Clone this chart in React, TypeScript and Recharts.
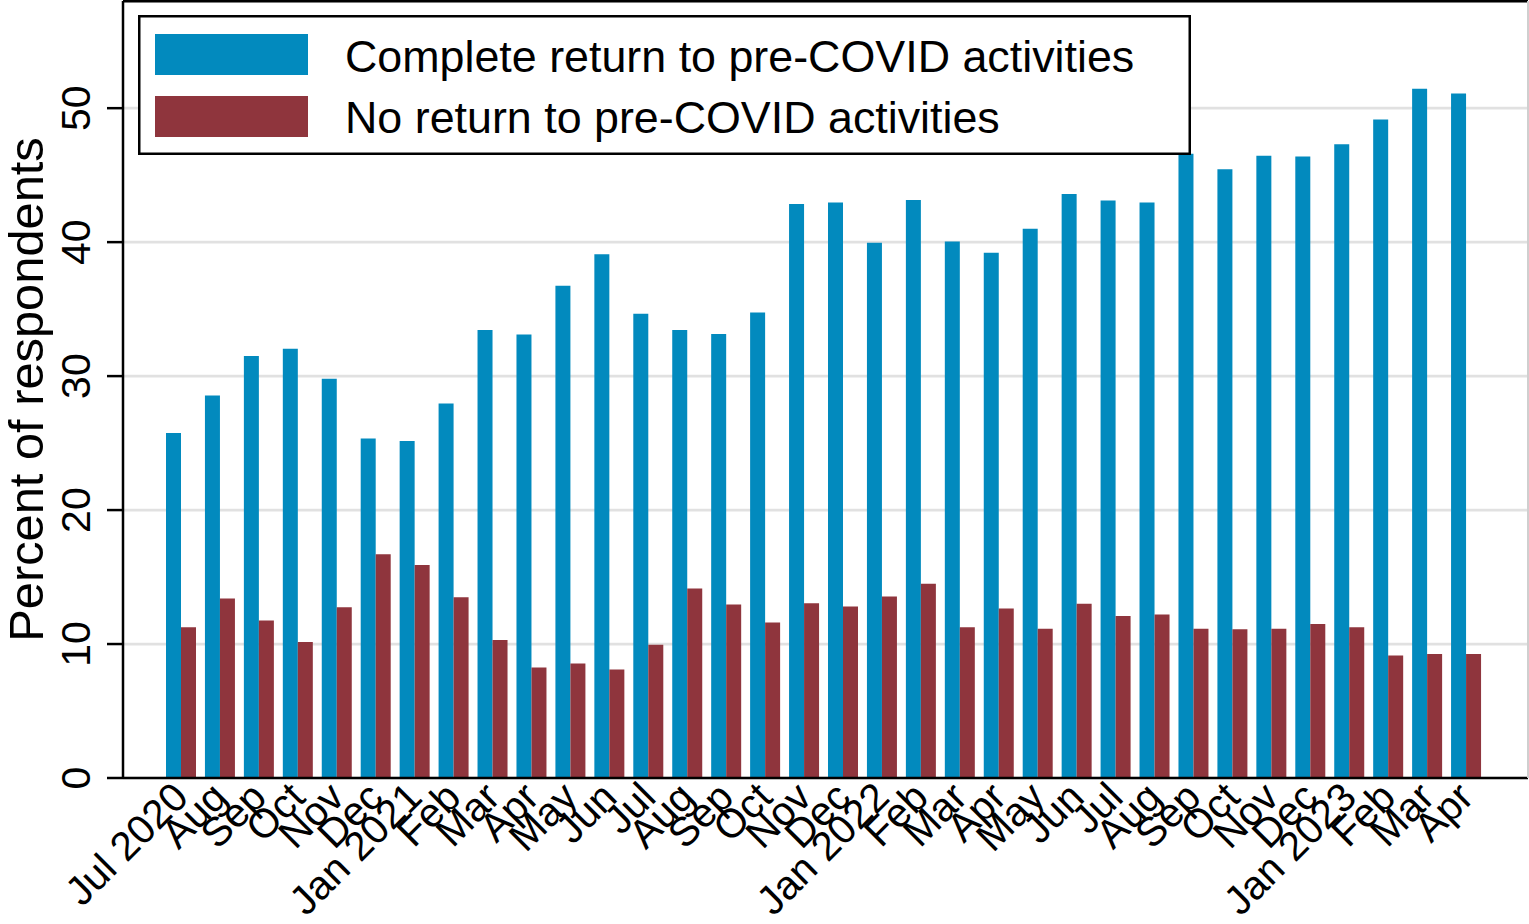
import React from 'react';
import { BarChart, Bar, XAxis, YAxis, CartesianGrid, Legend, ReferenceLine, Label } from 'recharts';

const months: string[] = ['Jul 2020', 'Aug', 'Sep', 'Oct', 'Nov', 'Dec', 'Jan 2021', 'Feb', 'Mar', 'Apr', 'May', 'Jun', 'Jul', 'Aug', 'Sep', 'Oct', 'Nov', 'Dec', 'Jan 2022', 'Feb', 'Mar', 'Apr', 'May', 'Jun', 'Jul', 'Aug', 'Sep', 'Oct', 'Nov', 'Dec', 'Jan 2023', 'Feb', 'Mar', 'Apr'];

const completeReturn: number[] = [25.75, 28.55, 31.5, 32.05, 29.8, 25.35, 25.15, 27.95, 33.45, 33.1, 36.75, 39.1, 34.65, 33.45, 33.15, 34.75, 42.85, 42.95, 39.95, 43.15, 40.05, 39.2, 41.0, 43.6, 43.1, 42.95, 46.6, 45.45, 46.45, 46.4, 47.3, 49.15, 51.45, 51.1];

const noReturn: number[] = [11.25, 13.4, 11.75, 10.15, 12.75, 16.7, 15.9, 13.5, 10.3, 8.25, 8.55, 8.1, 9.95, 14.15, 12.95, 11.6, 13.05, 12.8, 13.55, 14.5, 11.25, 12.65, 11.15, 13.0, 12.1, 12.2, 11.15, 11.1, 11.15, 11.5, 11.25, 9.15, 9.25, 9.25];

const yTicks: number[] = [0, 10, 20, 30, 40, 50];

const BLUE = '#028ABE';
const RED = '#8F353D';
const FONT = '"Liberation Sans", Arial, Helvetica, sans-serif';

const data = months.map((m, i) => ({
  key: String(i),
  label: m,
  complete: completeReturn[i],
  none: noReturn[i],
}));

const XTick = (props: any) => {
  const { x, y, payload } = props;
  const idx = Number(payload.value);
  const tx = x + 9;
  const ty = y + 21.5;
  return (
    <text
      x={tx}
      y={ty}
      transform={`rotate(-45 ${tx} ${ty})`}
      textAnchor="end"
      fontSize={40.5}
      fontFamily={FONT}
      fill="#000"
    >
      {months[idx]}
    </text>
  );
};

const YTick = (props: any) => {
  const { x, y, payload } = props;
  return (
    <text
      x={x}
      y={y}
      transform={`rotate(-90 ${x} ${y})`}
      textAnchor="middle"
      fontSize={41}
      fontFamily={FONT}
      fill="#000"
    >
      {payload.value}
    </text>
  );
};

const LegendBox = (props: any) => {
  const payload = props.payload || [];
  return (
    <svg width={1053} height={140} style={{ display: 'block' }}>
      <rect x={1.25} y={1.25} width={1050.5} height={137.5} fill="#fff" stroke="#000" strokeWidth={2.5} />
      {payload.map((p: any, i: number) => (
        <g key={i}>
          <rect x={17} y={19 + i * 62} width={153} height={41} fill={p.color} />
          <text x={207} y={57 + i * 61} fontSize={44.8} fontFamily={FONT} fill="#000">
            {p.value}
          </text>
        </g>
      ))}
    </svg>
  );
};

export default function App() {
  return (
    <div style={{ position: 'absolute', left: 0, top: 0, width: 1529, height: 924, background: '#fff' }}>
      <BarChart
        width={1529}
        height={924}
        data={data}
        margin={{ top: 1, right: 0, bottom: 0, left: 0 }}
        barGap={0}
        barSize={15}
      >
        <CartesianGrid vertical={false} stroke="#e1e1e1" strokeWidth={2.7} />
        <XAxis
          dataKey="key"
          height={146}
          interval={0}
          tickLine={false}
          tickSize={0}
          tickMargin={0}
          axisLine={{ stroke: '#000', strokeWidth: 2.5 }}
          padding={{ left: 39, right: 42 }}
          tick={<XTick />}
        />
        <YAxis
          width={123}
          domain={[0, 58]}
          ticks={yTicks}
          tickSize={16}
          tickMargin={17}
          tickLine={{ stroke: '#000', strokeWidth: 2.5 }}
          axisLine={{ stroke: '#000', strokeWidth: 2.5 }}
          tick={<YTick />}
        >
          <Label
            content={(lp: any) => {
              const vb = lp.viewBox || { y: 1, height: 777 };
              const cy = vb.y + vb.height / 2;
              return (
                <text
                  x={43}
                  y={cy}
                  transform={`rotate(-90 43 ${cy})`}
                  textAnchor="middle"
                  fontSize={48.8}
                  fontFamily={FONT}
                  fill="#000"
                >
                  Percent of respondents
                </text>
              );
            }}
          />
        </YAxis>
        <YAxis
          yAxisId="right"
          orientation="right"
          width={1}
          domain={[0, 58]}
          tick={false}
          tickLine={false}
          axisLine={{ stroke: '#cfcfcf', strokeWidth: 2 }}
        />
        <ReferenceLine y={58} stroke="#000" strokeWidth={3} />
        <Bar dataKey="complete" name="Complete return to pre-COVID activities" fill={BLUE} isAnimationActive={false} />
        <Bar dataKey="none" name="No return to pre-COVID activities" fill={RED} isAnimationActive={false} />
        <Legend
          layout="vertical"
          align="center"
          verticalAlign="middle"
          wrapperStyle={{ left: 138, top: 15, width: 1053, height: 140, margin: 0 }}
          content={<LegendBox />}
        />
      </BarChart>
    </div>
  );
}
